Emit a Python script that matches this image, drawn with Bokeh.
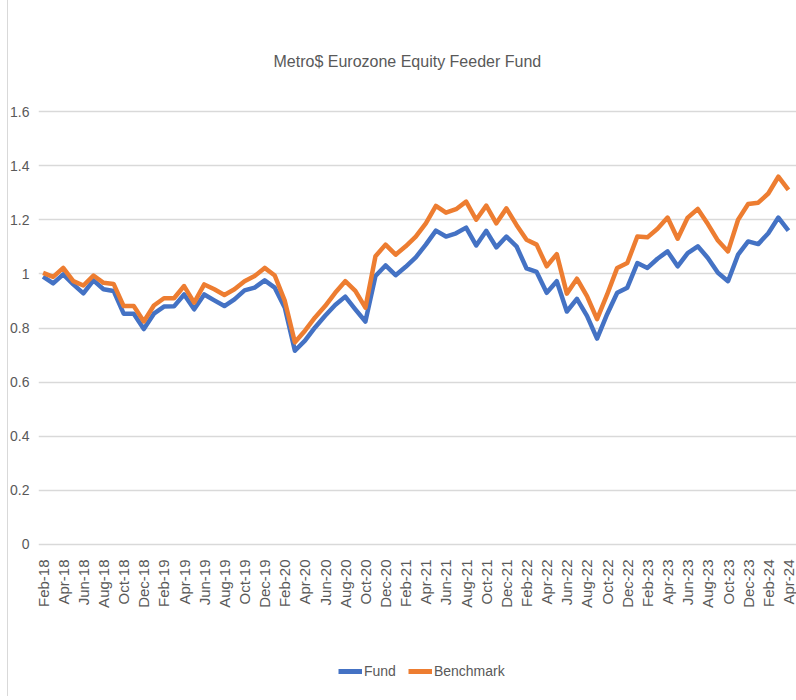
from math import pi
from bokeh.plotting import figure
from bokeh.layouts import column
from bokeh.models import Range1d, FixedTicker, Legend, LegendItem
from bokeh.embed import file_html
from bokeh.resources import INLINE

title_text = "Metro$ Eurozone Equity Feeder Fund"

fund = [0.990, 0.965, 0.998, 0.961, 0.928, 0.976, 0.943, 0.937, 0.853, 0.853, 0.796, 0.853, 0.879, 0.880, 0.924,
        0.869, 0.924, 0.902, 0.881, 0.906, 0.939, 0.949, 0.976, 0.949, 0.875, 0.716, 0.753, 0.802, 0.845, 0.885,
        0.916, 0.869, 0.824, 0.992, 1.031, 0.995, 1.026, 1.061, 1.108, 1.160, 1.138, 1.150, 1.171, 1.105, 1.159,
        1.098, 1.138, 1.102, 1.020, 1.007, 0.930, 0.973, 0.861, 0.908, 0.845, 0.761, 0.851, 0.930, 0.949, 1.040,
        1.022, 1.056, 1.083, 1.028, 1.077, 1.102, 1.059, 1.004, 0.973, 1.071, 1.120, 1.110, 1.150, 1.208, 1.160]

benchmark = [1.004, 0.989, 1.022, 0.973, 0.957, 0.994, 0.967, 0.963, 0.881, 0.881, 0.824, 0.883, 0.910, 0.910, 0.955,
             0.894, 0.961, 0.943, 0.922, 0.943, 0.973, 0.992, 1.022, 0.994, 0.900, 0.747, 0.790, 0.839, 0.881, 0.930,
             0.973, 0.937, 0.875, 1.065, 1.108, 1.071, 1.102, 1.138, 1.187, 1.251, 1.226, 1.239, 1.267, 1.200, 1.252,
             1.187, 1.242, 1.181, 1.126, 1.108, 1.028, 1.073, 0.927, 0.982, 0.918, 0.833, 0.924, 1.022, 1.040, 1.138,
             1.135, 1.167, 1.208, 1.130, 1.208, 1.240, 1.184, 1.123, 1.083, 1.200, 1.258, 1.263, 1.297, 1.359, 1.310]

tick_labels = ["Feb-18", "Apr-18", "Jun-18", "Aug-18", "Oct-18", "Dec-18",
               "Feb-19", "Apr-19", "Jun-19", "Aug-19", "Oct-19", "Dec-19",
               "Feb-20", "Apr-20", "Jun-20", "Aug-20", "Oct-20", "Dec-20",
               "Feb-21", "Apr-21", "Jun-21", "Aug-21", "Oct-21", "Dec-21",
               "Feb-22", "Apr-22", "Jun-22", "Aug-22", "Oct-22", "Dec-22",
               "Feb-23", "Apr-23", "Jun-23", "Aug-23", "Oct-23", "Dec-23",
               "Feb-24", "Apr-24"]

y_ticks = [0, 0.2, 0.4, 0.6, 0.8, 1.0, 1.2, 1.4, 1.6]
y_tick_labels = ["0", "0.2", "0.4", "0.6", "0.8", "1", "1.2", "1.4", "1.6"]

series_names = ["Fund", "Benchmark"]
series_colors = ["#4472C4", "#ED7D31"]

x = list(range(len(fund)))
tick_pos = list(range(0, 2 * len(tick_labels), 2))

GRAY = "#595959"
FONT = "Liberation Sans"
BORDER_BG = {"background": "linear-gradient(to right, white 7px, #d9d9d9 7px, #d9d9d9 8px, white 8px)"}

p = figure(width=796, height=646, output_backend="svg", toolbar_location=None,
           x_range=Range1d(-0.455, 74.8), y_range=Range1d(-0.0074, 1.6074),
           min_border_left=38, min_border_right=0, min_border_top=109, min_border_bottom=100)
p.styles = BORDER_BG

p.title.text = title_text
p.title.align = "left"
p.title.text_font = FONT
p.title.text_font_size = "16px"
p.title.text_font_style = "normal"
p.title.text_color = GRAY
p.title.standoff = 79
p.title.offset = 235

p.outline_line_color = None
p.background_fill_color = "white"
p.border_fill_alpha = 0

p.xgrid.grid_line_color = None
p.ygrid.grid_line_color = "#d9d9d9"
p.ygrid.grid_line_width = 1.5

p.yaxis.ticker = FixedTicker(ticks=y_ticks)
p.yaxis.major_label_overrides = {t: l for t, l in zip(y_ticks, y_tick_labels)}
p.yaxis.axis_line_color = None
p.yaxis.major_tick_line_color = None
p.yaxis.minor_tick_line_color = None
p.yaxis.major_tick_out = 0
p.yaxis.major_tick_in = 0
p.yaxis.major_label_text_font = FONT
p.yaxis.major_label_text_font_size = "14px"
p.yaxis.major_label_text_color = GRAY
p.yaxis.major_label_standoff = 9

p.xaxis.ticker = FixedTicker(ticks=tick_pos)
p.xaxis.major_label_overrides = {t: l for t, l in zip(tick_pos, tick_labels)}
p.xaxis.major_label_orientation = pi / 2
p.xaxis.axis_line_color = None
p.xaxis.major_tick_line_color = None
p.xaxis.minor_tick_line_color = None
p.xaxis.major_tick_out = 0
p.xaxis.major_tick_in = 0
p.xaxis.major_label_text_font = FONT
p.xaxis.major_label_text_font_size = "15px"
p.xaxis.major_label_text_color = GRAY
p.xaxis.major_label_standoff = 13

p.line(x, fund, line_color=series_colors[0], line_width=4.5, line_join="round")
p.line(x, benchmark, line_color=series_colors[1], line_width=4.5, line_join="round")

# legend strip below the chart (its frame is aligned with the chart's frame)
pl = figure(width=796, height=50, output_backend="svg", toolbar_location=None,
            x_range=Range1d(0, 1), y_range=Range1d(10, 11),
            min_border_left=38, min_border_right=0, min_border_top=0, min_border_bottom=0)
pl.styles = BORDER_BG
pl.axis.visible = False
pl.grid.grid_line_color = None
pl.outline_line_color = None
pl.background_fill_alpha = 0
pl.border_fill_alpha = 0
items = []
for name, color, vals in zip(series_names, series_colors, [fund, benchmark]):
    r = pl.line(x, vals, line_color=color, line_width=5)  # outside the visible range: legend only
    items.append(LegendItem(label=name, renderers=[r]))
legend = Legend(items=items, orientation="horizontal", location=(300, 17),
                glyph_width=24, glyph_height=16, label_standoff=2, spacing=12,
                padding=2, margin=0,
                label_text_font=FONT, label_text_font_size="14px",
                label_text_color=GRAY, background_fill_alpha=0, border_line_color=None)
pl.add_layout(legend, "center")

layout = column(p, pl, spacing=0)
open("out.html", "w").write(file_html(layout, INLINE))
